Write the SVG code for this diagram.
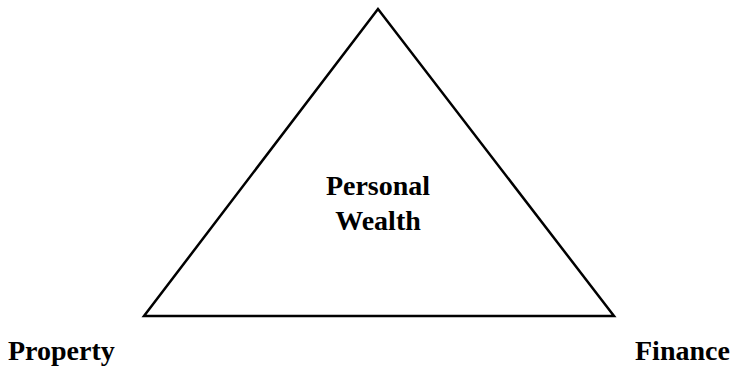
<svg xmlns="http://www.w3.org/2000/svg" width="737" height="371" viewBox="0 0 737 371">
<style>
.t{font-family:"Liberation Serif","Times New Roman",serif;font-weight:bold;font-size:28px;fill:#000}
</style>
<rect width="737" height="371" fill="#fff"/>
<g id="connectors"></g>
<g id="triangle">
<polygon points="378,9 144,316 614,316" fill="none" stroke="#000" stroke-width="2.5" stroke-linejoin="miter"/>
</g>
<g id="personal-wealth">
<text class="t" x="378" y="195" text-anchor="middle">Personal</text>
<text class="t" x="378" y="230" text-anchor="middle">Wealth</text>
</g>
<g id="property">
<text class="t" x="8" y="360">Property</text>
</g>
<g id="finance">
<text class="t" x="635" y="360">Finance</text>
</g>
</svg>
